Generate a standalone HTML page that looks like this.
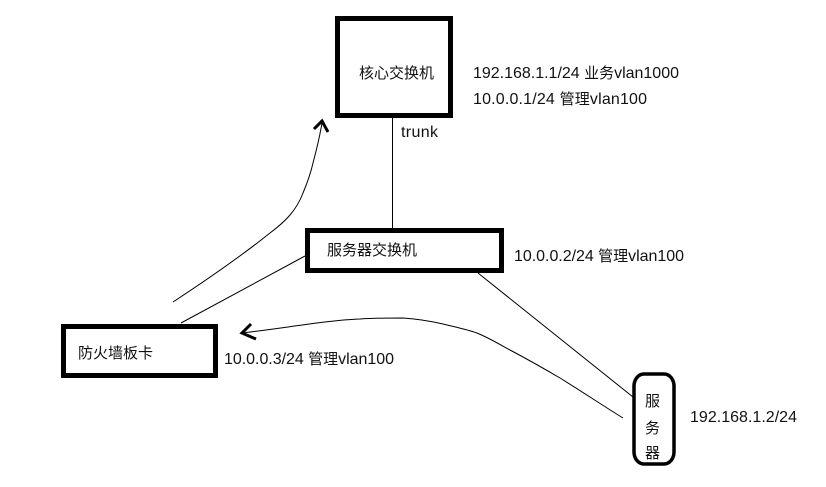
<!DOCTYPE html>
<html>
<head>
<meta charset="utf-8">
<style>
html,body{margin:0;padding:0;background:#fff;width:826px;height:487px;overflow:hidden}
svg{display:block}
text{font-family:"Liberation Sans","Noto Sans CJK SC",sans-serif;font-size:15px;fill:#111}
text.l{font-size:16px}
</style>
</head>
<body>
<svg width="826" height="487" viewBox="0 0 826 487" xmlns="http://www.w3.org/2000/svg">
<g fill="none" stroke="#000">
<rect x="337.5" y="18.5" width="113" height="97" stroke-width="5"/>
<rect x="307.5" y="230.5" width="194" height="40" stroke-width="5"/>
<rect x="63.5" y="326.5" width="152" height="49" stroke-width="5"/>
<rect x="634" y="374" width="40" height="90" rx="10" ry="12" stroke-width="3.5"/>
<path d="M392.5 118V228" stroke-width="1"/>
<path d="M305 256L181 323" stroke-width="1"/>
<path d="M478 273L633 397" stroke-width="1"/>
<path d="M173 302C205 281 240 257 270 233C278 227 285 221 290 215C296 208 300 201 303 193C308 181 311 172 313 163C317 148 320 135 322 123" stroke-width="1"/>
<path d="M242 333C285 328 330 320 360 319C375 318 390 318 403 318C418 319 430 321 443 324C455 327 466 329 477 333C489 338 499 344 510 350C527 359 543 368 560 378C581 391 602 405 623 418" stroke-width="1"/>
<path d="M314 129L322 121L328 132" stroke-width="3"/>
<path d="M251 324L242 333L256 339" stroke-width="3"/>
</g>
<text x="359" y="78" textLength="75">核心交换机</text>
<text class="l" x="473" y="78" textLength="206">192.168.1.1/24 <tspan font-size="15">业务</tspan>vlan1000</text>
<text class="l" x="473" y="104" textLength="174">10.0.0.1/24 <tspan font-size="15">管理</tspan>vlan100</text>
<text class="l" x="401" y="137" textLength="37">trunk</text>
<text x="327" y="255" textLength="90">服务器交换机</text>
<text class="l" x="514" y="261" textLength="170">10.0.0.2/24 <tspan font-size="15">管理</tspan>vlan100</text>
<text x="78" y="358" textLength="75">防火墙板卡</text>
<text class="l" x="224" y="364" textLength="170">10.0.0.3/24 <tspan font-size="15">管理</tspan>vlan100</text>
<text class="l" x="690" y="422" textLength="107">192.168.1.2/24</text>
<text x="645" y="406">服</text>
<text x="645" y="433">务</text>
<text x="645" y="458">器</text>
</svg>
</body>
</html>
